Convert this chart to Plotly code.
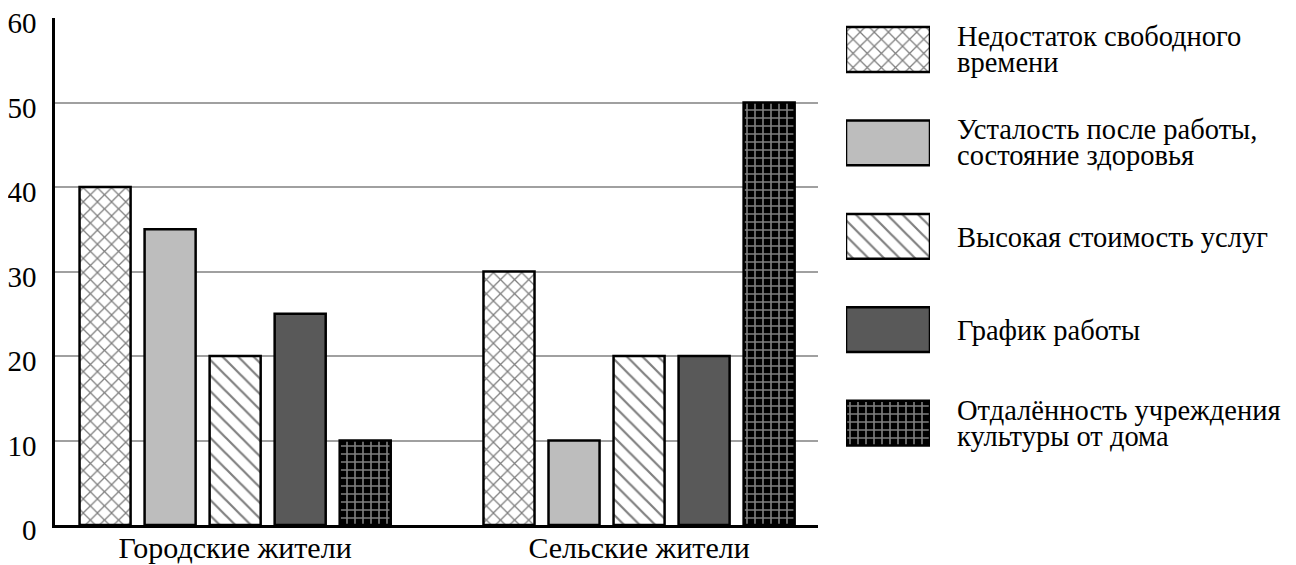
import plotly.graph_objects as go

categories = ["Городские жители", "Сельские жители"]
series_names = [
    "Недостаток свободного времени",
    "Усталость после работы, состояние здоровья",
    "Высокая стоимость услуг",
    "График работы",
    "Отдалённость учреждения культуры от дома",
]
legend_lines = [
    ["Недостаток свободного", "времени"],
    ["Усталость после работы,", "состояние здоровья"],
    ["Высокая стоимость услуг"],
    ["График работы"],
    ["Отдалённость учреждения", "культуры от дома"],
]
values = [
    [40, 30],
    [35, 10],
    [20, 20],
    [25, 20],
    [10, 50],
]
y_ticks = [0, 10, 20, 30, 40, 50, 60]

FONT = "Liberation Serif"
styles = [
    dict(color="white", pattern=dict(shape="x", fgcolor="black", bgcolor="white", size=10, solidity=0.24)),
    dict(color="#bdbdbd", pattern=dict(shape="")),
    dict(color="white", pattern=dict(shape="\\", fgcolor="black", bgcolor="white", size=11, solidity=0.2)),
    dict(color="#595959", pattern=dict(shape="")),
    dict(color="black", pattern=dict(shape="+", fgcolor="white", bgcolor="black", size=8, solidity=0.36)),
]

OFF = 8  # page body margin
W, H = 1296 - OFF, 565 - OFF
ml, mr, mt = 55 - OFF, 0, 18 - OFF
mb = H - (525 - OFF)
pw = W - ml - mr
ph = H - mt - mb


def px_to_paper(xpage):
    return (xpage - OFF - ml) / pw


fig = go.Figure()
for name, vals, st in zip(series_names, values, styles):
    fig.add_trace(go.Bar(
        x=categories, y=vals, name=name, showlegend=False,
        marker=dict(color=st["color"], pattern=st["pattern"], line=dict(color="black", width=2.5)),
        xaxis="x", yaxis="y",
    ))

# legend swatches on a separate hidden axis pair
for i, (name, st) in enumerate(zip(series_names, styles)):
    fig.add_trace(go.Bar(
        y=[i], x=[1], orientation="h", width=0.48, showlegend=False, hoverinfo="skip",
        marker=dict(color=st["color"], pattern=st["pattern"], line=dict(color="black", width=2.5)),
        xaxis="x2", yaxis="y2",
    ))

upx = 93.4  # pixels per legend item
annotations = []
text_x = px_to_paper(955)
for i, lines in enumerate(legend_lines):
    if len(lines) == 1:
        offs = [1]
    else:
        offs = [-13, 13]
    for line, o in zip(lines, offs):
        annotations.append(dict(
            x=text_x, xref="paper", y=i + o / upx, yref="y2",
            text=line, showarrow=False, xanchor="left", yanchor="middle",
            font=dict(family=FONT, size=28.5, color="black"),
        ))

top_val = -(49.5 - 18) / upx
bot_val = top_val + ph / upx

fig.update_layout(
    width=W, height=H,
    margin=dict(l=ml, r=mr, t=mt, b=mb, pad=0),
    paper_bgcolor="white", plot_bgcolor="white",
    barmode="group", bargap=0.195, bargroupgap=0.215,
    xaxis=dict(
        domain=[0, px_to_paper(818)], type="category", automargin=False,
        range=[-0.446, 1.443], showgrid=False, zeroline=False,
        showline=True, linecolor="black", linewidth=3,
        ticks="", ticklabelstandoff=-6,
        tickfont=dict(family=FONT, size=30, color="black"),
    ),
    yaxis=dict(
        range=[0, 60], tickvals=y_ticks, showgrid=True, gridcolor="#a0a0a0", gridwidth=1.5,
        zeroline=False, showline=True, linecolor="black", linewidth=2.5, automargin=False,
        ticks="", ticklabelstandoff=10, ticklabeloverflow="allow", ticklabelshift=5,
        tickfont=dict(family=FONT, size=29, color="black"),
    ),
    xaxis2=dict(domain=[px_to_paper(846), px_to_paper(930)], range=[0, 1], visible=False, anchor="y2"),
    yaxis2=dict(domain=[0, 1], range=[bot_val, top_val], visible=False, anchor="x2"),
    annotations=annotations,
    showlegend=False,
)

fig.write_html("out.html")
